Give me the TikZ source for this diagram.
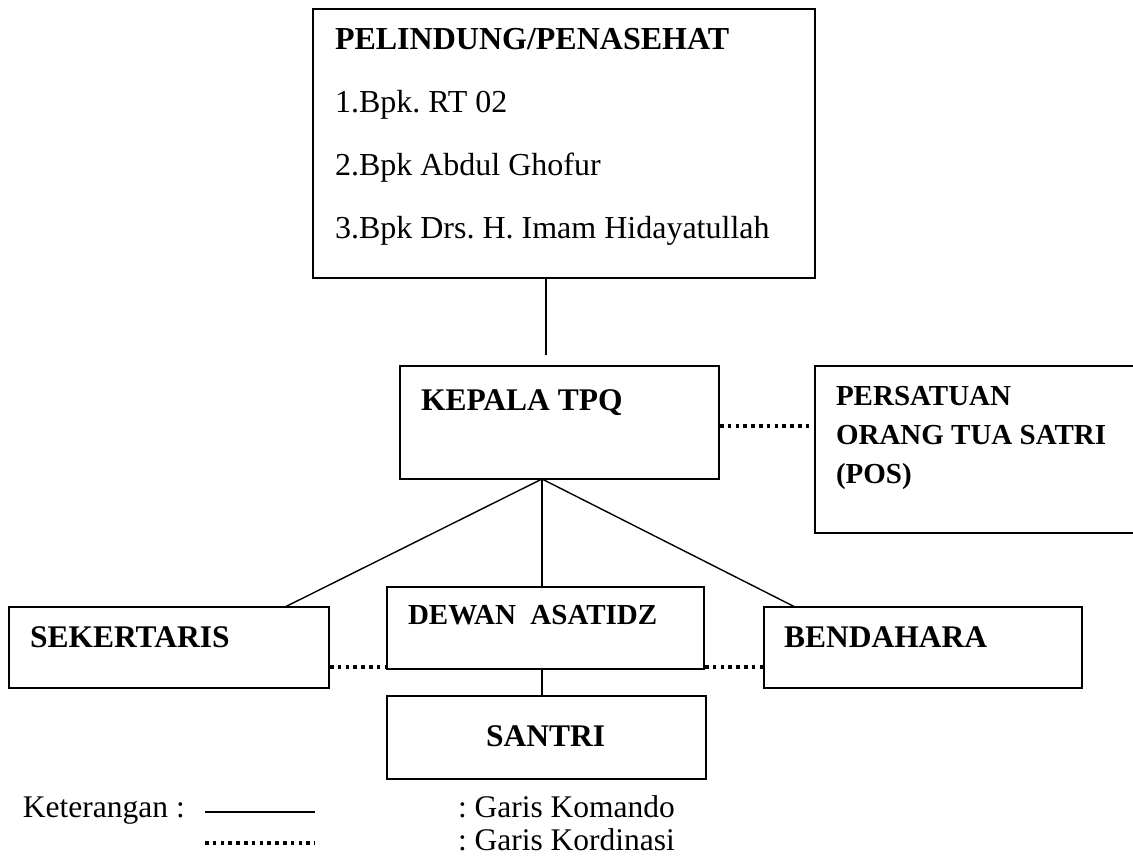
\documentclass[tikz,border=0pt]{standalone}
\usepackage{fontspec}
\setmainfont{Liberation Serif}
\frenchspacing
\begin{document}
\begin{tikzpicture}[x=1pt,y=-1pt,
  box/.style={draw, line width=2pt, rectangle, anchor=north west, inner sep=0pt, outer sep=0pt},
  cmd/.style={line width=1.4pt},
  crd/.style={line width=3.6pt, dash pattern=on 3.6pt off 4.2pt},
  txt/.style={anchor=base west, inner sep=0pt, outer sep=0pt},
  big/.style={font=\fontsize{32}{38}\selectfont},
  bigb/.style={font=\fontsize{31.5}{38}\selectfont\bfseries},
  midb/.style={font=\fontsize{29}{35}\selectfont\bfseries},
  leg/.style={font=\fontsize{31.5}{38}\selectfont}]
\useasboundingbox (0,0) rectangle (1133,861);
\clip (0,0) rectangle (1133,861);
% boxes
\node[box, minimum width=502pt, minimum height=269pt] (pel) at (313,9) {};
\node[box, minimum width=319pt, minimum height=113pt] (kep) at (400,366) {};
\node[box, minimum width=340pt, minimum height=167pt] (pos) at (815,366) {};
\node[box, minimum width=320pt, minimum height=81pt] (sek) at (9,607) {};
\node[box, minimum width=317pt, minimum height=82pt] (dew) at (387,587) {};
\node[box, minimum width=318pt, minimum height=81pt] (ben) at (764,607) {};
\node[box, minimum width=319pt, minimum height=83pt] (san) at (387,696) {};
% texts
\node[txt, font=\fontsize{32}{38}\selectfont\bfseries] (t1) at (335,50) {PELINDUNG/PENASEHAT};
\node[txt, big] (t2) at (335,113) {1.Bpk. RT 02};
\node[txt, big] (t3) at (335,176) {2.Bpk Abdul Ghofur};
\node[txt, big] (t4) at (335,239) {3.Bpk Drs. H. Imam Hidayatullah};
\node[txt, bigb] (tk) at (421,410) {KEPALA TPQ};
\node[txt, midb] (tp1) at (836,405) {PERSATUAN};
\node[txt, midb] (tp2) at (836,444) {ORANG TUA SATRI};
\node[txt, midb] (tp3) at (836,483) {(POS)};
\node[txt, bigb] (ts) at (30,647) {SEKERTARIS};
\node[txt, midb] (td) at (408,624) {DEWAN\ \ ASATIDZ};
\node[txt, bigb] (tb) at (784,647) {BENDAHARA};
\node[txt, bigb] (tsa) at (486,746) {SANTRI};
% connectors
\coordinate (pelb) at (546,278);
\coordinate (kept) at (546,355);
\coordinate (apex) at (542,479);
\coordinate (sekt) at (285,607);
\coordinate (bent) at (795,607);
\coordinate (dewt) at (542,587);
\coordinate (dewb) at (542,669);
\coordinate (sant) at (542,696);
\draw[cmd] (pelb) -- (kept);
\draw[cmd] (apex) -- (sekt);
\draw[cmd] (apex) -- (dewt);
\draw[cmd] (apex) -- (bent);
\draw[cmd] (dewb) -- (sant);
\draw[crd] (720,426) -- (814,426);
\draw[crd] (330,667) -- (386,667);
\draw[crd] (705,667) -- (763,667);
% legend
\node[txt, leg] (ket) at (23,817) {Keterangan :};
\coordinate (l1a) at (205,812);
\coordinate (l1b) at (315,812);
\coordinate (l2a) at (205,843);
\coordinate (l2b) at (315,843);
\draw[cmd] (l1a) -- (l1b);
\draw[crd] (l2a) -- (l2b);
\node[txt, leg] (gk) at (458,817) {: Garis Komando};
\node[txt, leg] (gd) at (458,850) {: Garis Kordinasi};
\end{tikzpicture}
\end{document}
